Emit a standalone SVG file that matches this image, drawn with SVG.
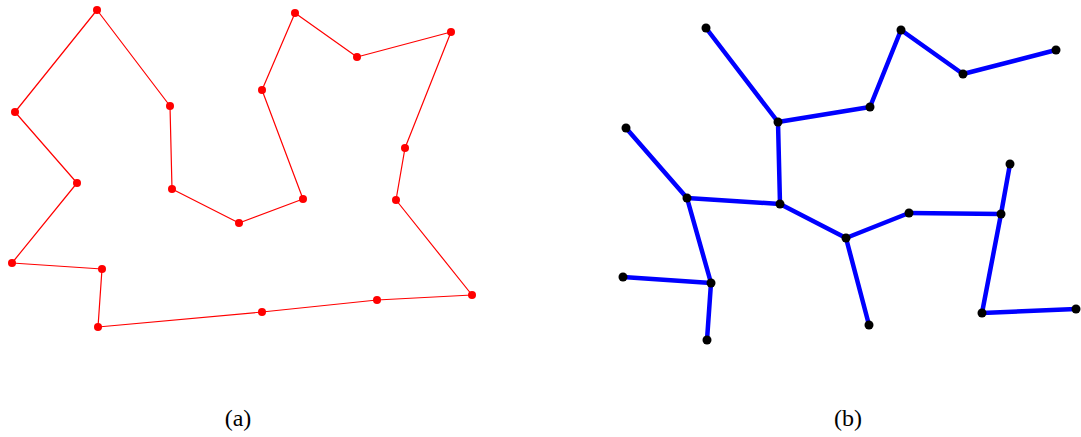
<svg xmlns="http://www.w3.org/2000/svg" width="1081" height="437" viewBox="0 0 1081 437">
<style>
.poly{fill:none;stroke:#ff0000;stroke-width:1.2;stroke-linejoin:round}
.rn{fill:#ff0000}
.be{stroke:#0000ff;stroke-width:4.5;stroke-linecap:round}
.bn{fill:#000000}
.lbl{font-family:"Liberation Serif",serif;font-size:24px;fill:#000;text-anchor:middle}
</style>
<rect width="1081" height="437" fill="#ffffff"/>
<g id="connectors">
<polygon class="poly" points="97,10 170,106 172,189 239,223 303,199 262,90 295,13 357,57 451,32 405,148 396,200 472,295 377,300 262,312 98,327 102,269 12,263 77,183 15,112"/>
<g class="be">
<line x1="706" y1="28" x2="778" y2="122"/>
<line x1="778" y1="122" x2="870" y2="107"/>
<line x1="870" y1="107" x2="901" y2="30"/>
<line x1="901" y1="30" x2="963" y2="74"/>
<line x1="963" y1="74" x2="1056" y2="50"/>
<line x1="778" y1="122" x2="780" y2="204"/>
<line x1="626" y1="128" x2="687" y2="198"/>
<line x1="687" y1="198" x2="780" y2="204"/>
<line x1="780" y1="204" x2="846" y2="238"/>
<line x1="687" y1="198" x2="711" y2="283"/>
<line x1="623" y1="277" x2="711" y2="283"/>
<line x1="711" y1="283" x2="707" y2="340"/>
<line x1="846" y1="238" x2="909" y2="213"/>
<line x1="846" y1="238" x2="869" y2="325"/>
<line x1="909" y1="213" x2="1001" y2="214"/>
<line x1="1001" y1="214" x2="1010" y2="164"/>
<line x1="1001" y1="214" x2="982" y2="313"/>
<line x1="982" y1="313" x2="1076" y2="309"/>
</g>
</g>
<g id="red-nodes" class="rn">
<circle id="r1" cx="97" cy="10" r="4"/>
<circle id="r2" cx="170" cy="106" r="4"/>
<circle id="r3" cx="172" cy="189" r="4"/>
<circle id="r4" cx="239" cy="223" r="4"/>
<circle id="r5" cx="303" cy="199" r="4"/>
<circle id="r6" cx="262" cy="90" r="4"/>
<circle id="r7" cx="295" cy="13" r="4"/>
<circle id="r8" cx="357" cy="57" r="4"/>
<circle id="r9" cx="451" cy="32" r="4"/>
<circle id="r10" cx="405" cy="148" r="4"/>
<circle id="r11" cx="396" cy="200" r="4"/>
<circle id="r12" cx="472" cy="295" r="4"/>
<circle id="r13" cx="377" cy="300" r="4"/>
<circle id="r14" cx="262" cy="312" r="4"/>
<circle id="r15" cx="98" cy="327" r="4"/>
<circle id="r16" cx="102" cy="269" r="4"/>
<circle id="r17" cx="12" cy="263" r="4"/>
<circle id="r18" cx="77" cy="183" r="4"/>
<circle id="r19" cx="15" cy="112" r="4"/>
</g>
<g id="blue-nodes" class="bn">
<circle id="b1" cx="706" cy="28" r="4.5"/>
<circle id="b2" cx="778" cy="122" r="4.5"/>
<circle id="b3" cx="870" cy="107" r="4.5"/>
<circle id="b4" cx="901" cy="30" r="4.5"/>
<circle id="b5" cx="963" cy="74" r="4.5"/>
<circle id="b6" cx="1056" cy="50" r="4.5"/>
<circle id="b7" cx="626" cy="128" r="4.5"/>
<circle id="b8" cx="687" cy="198" r="4.5"/>
<circle id="b9" cx="780" cy="204" r="4.5"/>
<circle id="b10" cx="846" cy="238" r="4.5"/>
<circle id="b11" cx="909" cy="213" r="4.5"/>
<circle id="b12" cx="1001" cy="214" r="4.5"/>
<circle id="b13" cx="1010" cy="164" r="4.5"/>
<circle id="b14" cx="623" cy="277" r="4.5"/>
<circle id="b15" cx="711" cy="283" r="4.5"/>
<circle id="b16" cx="707" cy="340" r="4.5"/>
<circle id="b17" cx="869" cy="325" r="4.5"/>
<circle id="b18" cx="982" cy="313" r="4.5"/>
<circle id="b19" cx="1076" cy="309" r="4.5"/>
</g>
<text class="lbl" x="238" y="426">(a)</text>
<text class="lbl" x="848" y="426">(b)</text>
</svg>
